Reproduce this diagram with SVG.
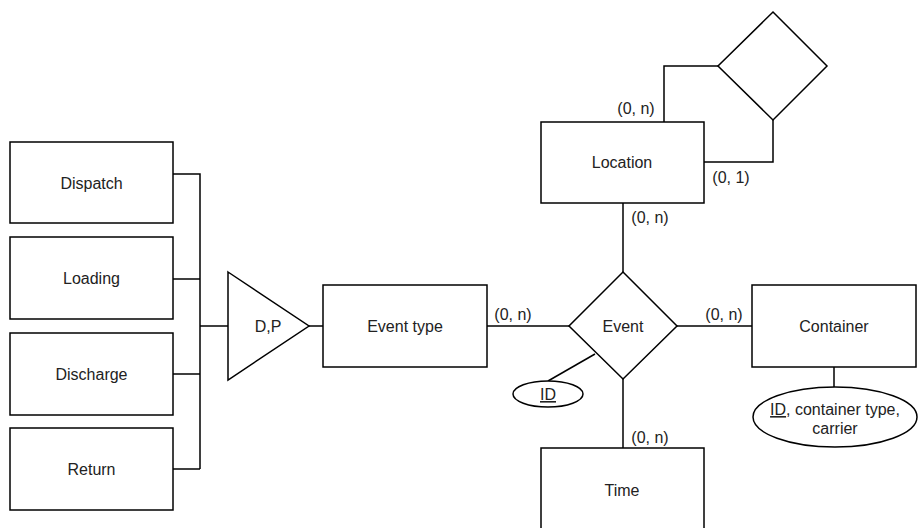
<svg xmlns="http://www.w3.org/2000/svg" width="919" height="528" viewBox="0 0 919 528">
<style>
.s{fill:#fff;stroke:#000;stroke-width:1.5}
.c{fill:none;stroke:#000;stroke-width:1.5}
text{font-family:"Liberation Sans",Arial,sans-serif;font-size:16px;fill:#222}
.m{text-anchor:middle}
</style>
<rect width="919" height="528" fill="#fff"/>
<g id="connectors">
<polyline class="c" points="173,174 200,174 200,469"/>
<line class="c" x1="173" y1="279" x2="200" y2="279"/>
<line class="c" x1="173" y1="374" x2="200" y2="374"/>
<line class="c" x1="173" y1="469" x2="200" y2="469"/>
<line class="c" x1="200" y1="326" x2="228" y2="326"/>
<line class="c" x1="309" y1="326" x2="323" y2="326"/>
<line class="c" x1="487" y1="326" x2="569" y2="326"/>
<line class="c" x1="677" y1="326" x2="752" y2="326"/>
<line class="c" x1="834" y1="367" x2="834" y2="387"/>
<line class="c" x1="595" y1="354" x2="548" y2="381"/>
<line class="c" x1="623" y1="379" x2="623" y2="448"/>
<line class="c" x1="623" y1="203" x2="623" y2="272"/>
<polyline class="c" points="718,66 664,66 664,122"/>
<polyline class="c" points="773,120 773,162 704,162"/>
<text x="513" y="320" class="m">(0, n)</text>
<text x="724" y="320" class="m">(0, n)</text>
<text x="650" y="443" class="m">(0, n)</text>
<text x="650" y="223" class="m">(0, n)</text>
<text x="636" y="114" class="m">(0, n)</text>
<text x="731" y="183" class="m">(0, 1)</text>
</g>
<g id="dispatch"><rect class="s" x="10" y="142" width="163" height="81"/><text x="91.5" y="189" class="m">Dispatch</text></g>
<g id="loading"><rect class="s" x="10" y="237" width="163" height="82"/><text x="91.5" y="284" class="m">Loading</text></g>
<g id="discharge"><rect class="s" x="10" y="333" width="163" height="82"/><text x="91.5" y="380" class="m">Discharge</text></g>
<g id="return"><rect class="s" x="10" y="428" width="163" height="82"/><text x="91.5" y="475" class="m">Return</text></g>
<g id="isa"><polygon class="s" points="228,272 309,326 228,380"/><text x="268" y="332" class="m">D,P</text></g>
<g id="event-type"><rect class="s" x="323" y="285" width="164" height="82"/><text x="405" y="332" class="m">Event type</text></g>
<g id="event"><polygon class="s" points="623,272 677,326 623,379 569,326"/><text x="623" y="332" class="m">Event</text></g>
<g id="event-id"><ellipse class="s" cx="548" cy="394" rx="35" ry="13"/><text x="548" y="400" class="m" text-decoration="underline">ID</text></g>
<g id="container"><rect class="s" x="752" y="285" width="164" height="82"/><text x="834" y="332" class="m">Container</text></g>
<g id="container-attr"><ellipse class="s" cx="835" cy="417" rx="82" ry="30"/><text x="835" y="415" class="m"><tspan text-decoration="underline">ID</tspan>, container type,</text><text x="835" y="434" class="m">carrier</text></g>
<g id="time"><rect class="s" x="541" y="448" width="163" height="90"/><text x="622" y="496" class="m">Time</text></g>
<g id="location"><rect class="s" x="541" y="122" width="163" height="81"/><text x="622" y="168" class="m">Location</text></g>
<g id="self-rel"><polygon class="s" points="773,12 827,66 773,120 718,66"/></g>
</svg>
